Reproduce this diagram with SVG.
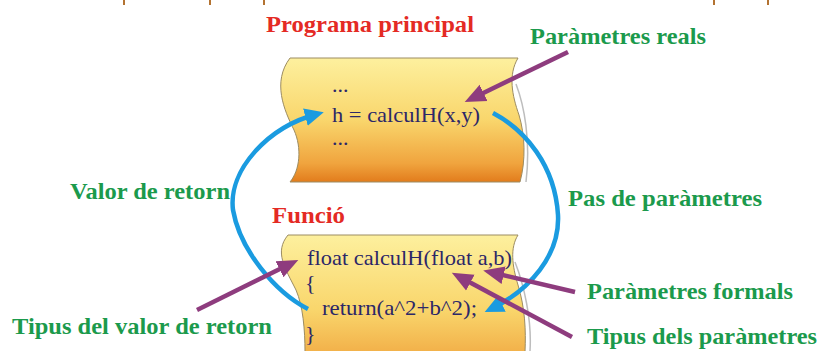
<svg xmlns="http://www.w3.org/2000/svg" width="819" height="351" viewBox="0 0 819 351">
<style>
text{font-family:'Liberation Serif','Times New Roman','DejaVu Serif',serif}
.title{font-weight:bold;font-size:24px;fill:#e42a24}
.label{font-weight:bold;font-size:24px;fill:#1b9a4c}
.code{font-size:22px;fill:#2c2768}
.scroll{stroke:#9c8c62;stroke-width:1}
.shadow{fill:none;stroke:#bdbdbd;stroke-width:1.5}
.blue{fill:none;stroke:#1a9be0;stroke-width:4.5}
.purple{fill:none;stroke:#8e3c7e;stroke-width:4.5}
.tick{stroke:#b37332;stroke-width:2}
</style>
<defs>
<linearGradient id="g1" x1="0" y1="0" x2="0" y2="1">
<stop offset="0" stop-color="#fdf09e"/>
<stop offset="0.5" stop-color="#f9d66c"/>
<stop offset="0.85" stop-color="#f0a43e"/>
<stop offset="1" stop-color="#e27c1c"/>
</linearGradient>
<linearGradient id="g2" gradientUnits="userSpaceOnUse" x1="0" y1="235" x2="0" y2="400">
<stop offset="0" stop-color="#fdf09e"/>
<stop offset="0.45" stop-color="#f9d66c"/>
<stop offset="0.8" stop-color="#f0a43e"/>
<stop offset="1" stop-color="#e27c1c"/>
</linearGradient>
<marker id="ab" markerUnits="userSpaceOnUse" markerWidth="20" markerHeight="20" viewBox="0 0 20 20" refX="12" refY="10" orient="auto">
<path d="M0,1 L19,10 L0,19 Z" fill="#1a9be0"/>
</marker>
<marker id="ap" markerUnits="userSpaceOnUse" markerWidth="22" markerHeight="20" viewBox="0 0 22 20" refX="14" refY="10" orient="auto">
<path d="M0,1 L21,10 L0,19 Z" fill="#8e3c7e"/>
</marker>
</defs>
<rect width="819" height="351" fill="#ffffff"/>
<g id="top-edge">
<line class="tick" x1="124" y1="0" x2="124" y2="5"/>
<line class="tick" x1="210" y1="0" x2="210" y2="5"/>
<line class="tick" x1="264" y1="0" x2="264" y2="5"/>
<line class="tick" x1="714" y1="0" x2="714" y2="5"/>
<line class="tick" x1="768" y1="0" x2="768" y2="5"/>
</g>
<g id="programa-principal">
<text class="title" x="266" y="32" textLength="208" lengthAdjust="spacingAndGlyphs">Programa principal</text>
<path class="shadow" d="M516,84 C524,105 531,140 526,182"/>
<path class="scroll" fill="url(#g1)" d="M290,58 L518,58 C508,75 512,95 519,115 C525,135 526,160 520,182 L290,182 C300,170 302,148 294,130 C284,110 272,82 290,58 Z"/>
<text class="code" x="332" y="92">...</text>
<text class="code" x="332" y="122" textLength="148" lengthAdjust="spacingAndGlyphs">h = calculH(x,y)</text>
<text class="code" x="332" y="145">...</text>
</g>
<g id="funcio">
<text class="title" x="272" y="223" font-size="22" textLength="73" lengthAdjust="spacingAndGlyphs">Funció</text>
<path class="shadow" d="M515,262 C524,285 532,320 530,351"/>
<path class="scroll" fill="url(#g2)" d="M288,235 L518,235 C510,248 512,265 518,285 C525,308 526,330 525,352 L305,352 C305,330 303,306 296,290 C285,268 274,252 288,235 Z"/>
<text class="code" x="307" y="265" textLength="205" lengthAdjust="spacingAndGlyphs">float calculH(float a,b)</text>
<text class="code" x="305" y="290">{</text>
<text class="code" x="322" y="315" textLength="155" lengthAdjust="spacingAndGlyphs">return(a^2+b^2);</text>
<text class="code" x="305" y="341">}</text>
</g>
<g id="label-parametres-reals"><text class="label" x="530" y="44" textLength="176" lengthAdjust="spacingAndGlyphs">Paràmetres reals</text></g>
<g id="label-valor-retorn"><text class="label" x="70" y="199" textLength="160" lengthAdjust="spacingAndGlyphs">Valor de retorn</text></g>
<g id="label-pas-parametres"><text class="label" x="568" y="206" textLength="194" lengthAdjust="spacingAndGlyphs">Pas de paràmetres</text></g>
<g id="label-parametres-formals"><text class="label" x="587" y="299" textLength="206" lengthAdjust="spacingAndGlyphs">Paràmetres formals</text></g>
<g id="label-tipus-parametres"><text class="label" x="587" y="344" textLength="230" lengthAdjust="spacingAndGlyphs">Tipus dels paràmetres</text></g>
<g id="label-tipus-valor-retorn"><text class="label" x="12" y="334" textLength="260" lengthAdjust="spacingAndGlyphs">Tipus del valor de retorn</text></g>
<g id="connectors">
<path class="blue" marker-end="url(#ab)" d="M308,309 C275,292 240,250 233,210 C228,170 268,127 317,114"/>
<path class="blue" marker-end="url(#ab)" d="M493,113 C525,130 555,165 558,215 C560,255 530,290 491,309"/>
<path class="purple" marker-end="url(#ap)" d="M568,52 L471,99"/>
<path class="purple" marker-end="url(#ap)" d="M197,310 L292,263"/>
<path class="purple" marker-end="url(#ap)" d="M575,292 L490,272"/>
<path class="purple" marker-end="url(#ap)" d="M572,337 L458,276"/>
</g>
</svg>
